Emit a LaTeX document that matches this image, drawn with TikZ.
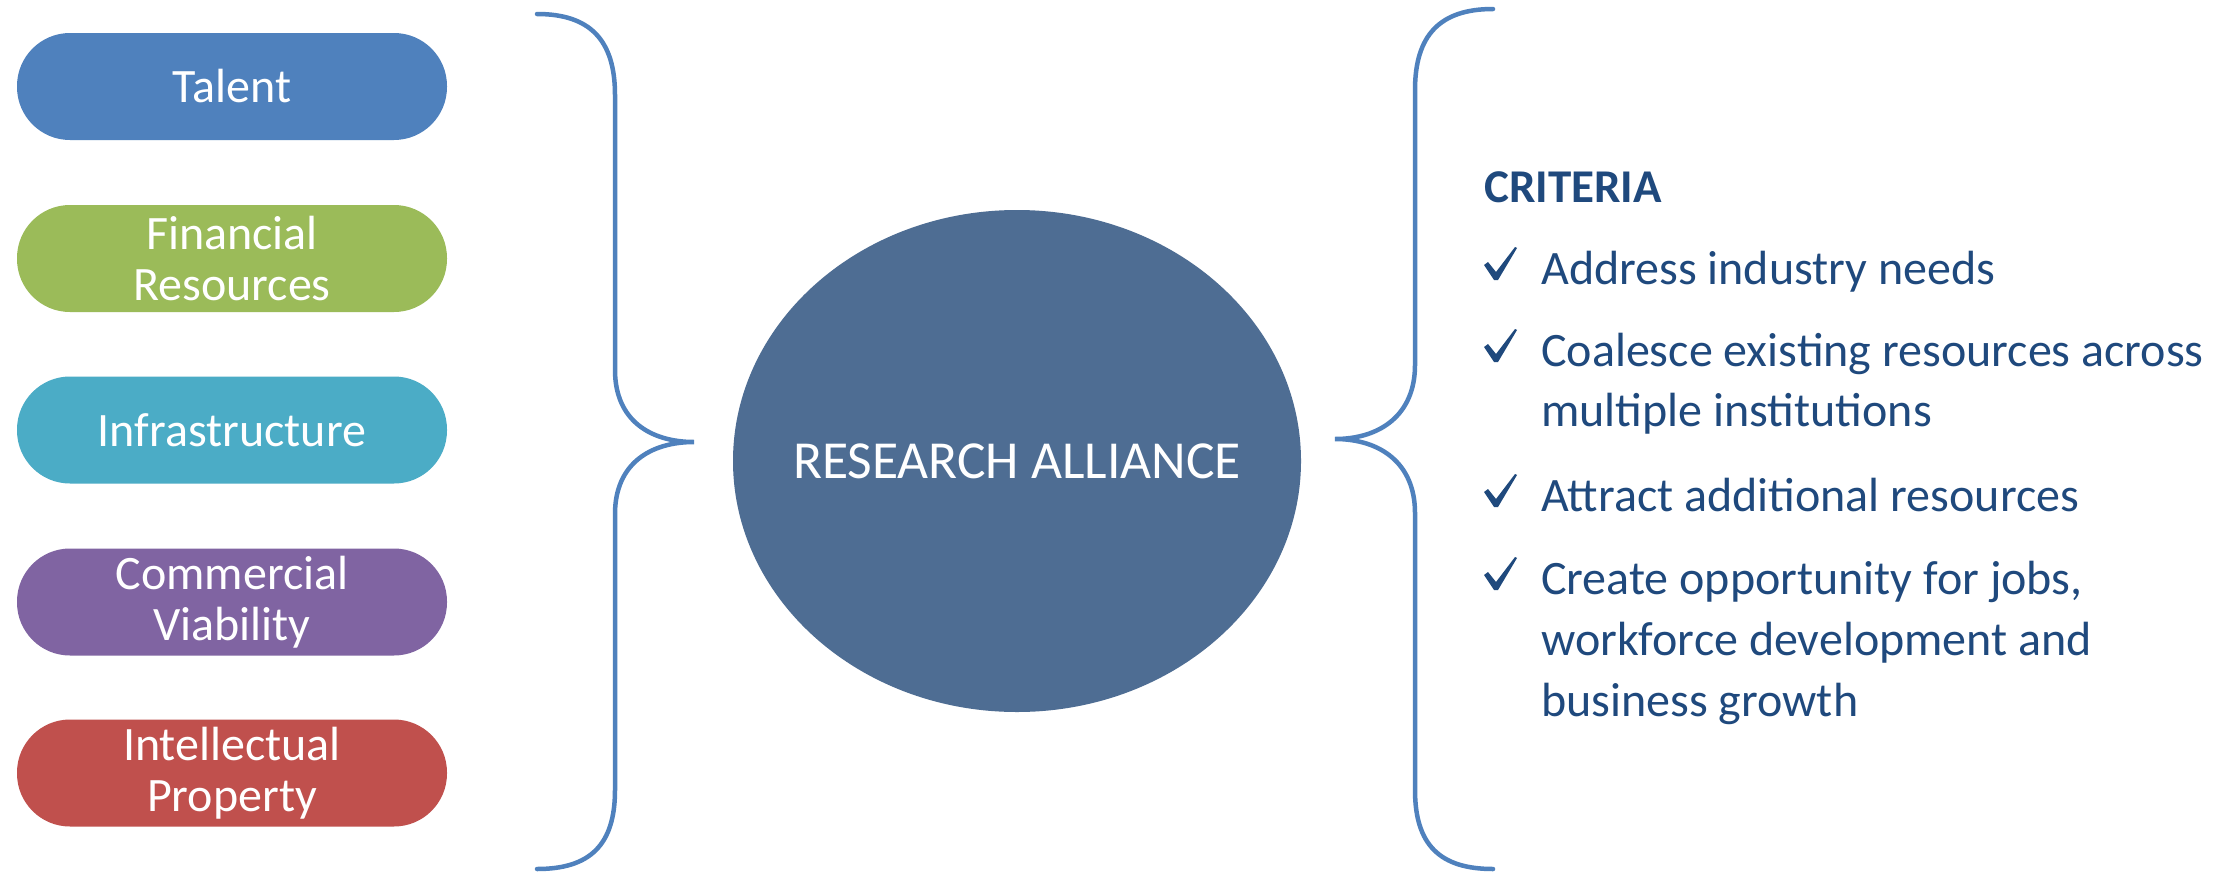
\documentclass[tikz,border=0pt]{standalone}
\usepackage{fontspec}
\usetikzlibrary{shapes.geometric}
\setmainfont{Carlito}
\definecolor{cTalent}{HTML}{4F81BD}
\definecolor{cFin}{HTML}{9BBB59}
\definecolor{cInfra}{HTML}{4BACC6}
\definecolor{cComm}{HTML}{8064A2}
\definecolor{cIP}{HTML}{C0504D}
\definecolor{cCore}{HTML}{4E6D93}
\definecolor{cBrace}{HTML}{4F81BD}
\definecolor{cText}{HTML}{1F497D}
\begin{document}
\begin{tikzpicture}[x=1pt,y=-1pt,
  pill/.style={draw=none, rounded corners=53pt, minimum width=430pt, minimum height=107pt,
    text=white, align=center, font=\fontsize{48}{51}\selectfont, inner sep=0pt},
  bracepath/.style={draw=cBrace, line width=4.5pt, line cap=round},
  crit/.style={anchor=base west, text=cText, inner sep=0pt, font=\fontsize{48}{60}\selectfont},
  chk/.pic={\fill[cText] (-1,-14) -- (3,-17) -- (11,-7) -- (30,-32) -- (32,-31)
      -- (13,1) -- (9,1) -- cycle;}]
\useasboundingbox (0,0) rectangle (2234,878);
\fill[white] (0,0) rectangle (2234,878);
% pills
\node[pill, fill=cTalent] (talent) at (232,86.5) {Talent};
\node[pill, fill=cFin] (fin) at (232,258.5) {Financial\\Resources};
\node[pill, fill=cInfra] (infra) at (232,430) {Infrastructure};
\node[pill, fill=cComm] (comm) at (232,602) {Commercial\\Viability};
\node[pill, fill=cIP] (ip) at (232,773) {Intellectual\\Property};
% centre
\node[ellipse, fill=cCore, minimum width=568pt, minimum height=502pt, inner sep=0pt] (core) at (1017,461) {};
\node[text=white, inner sep=0pt, font=\fontsize{53.5}{60}\selectfont] (corelabel) at (core.center) {RESEARCH ALLIANCE};
% left brace
\draw[bracepath] (537,14) .. controls (590,14) and (615,40) .. (615,95) -- (615,370)
  .. controls (615,420) and (650,442) .. (694,442)
  .. controls (650,442) and (615,464) .. (615,514) -- (615,790)
  .. controls (615,845) and (590,869) .. (537,869);
% right brace
\draw[bracepath] (1493,9) .. controls (1440,9) and (1415,35) .. (1415,90) -- (1415,365)
  .. controls (1415,415) and (1380,439) .. (1335,439)
  .. controls (1380,439) and (1415,463) .. (1415,513) -- (1415,790)
  .. controls (1415,845) and (1440,869) .. (1493,869);
% criteria
\node[crit, font=\bfseries\fontsize{47}{60}\selectfont] (crith) at (1484,202) {CRITERIA};
\coordinate (t1) at (1485,279); \pic at (t1) {chk};
\node[crit] (c1) at (1541,284) {Address industry needs};
\coordinate (t2) at (1485,361); \pic at (t2) {chk};
\node[crit] (c2a) at (1541,366) {Coalesce existing resources across};
\node[crit] (c2b) at (1541,426) {multiple institutions};
\coordinate (t3) at (1485,506); \pic at (t3) {chk};
\node[crit] (c3) at (1541,511) {Attract additional resources};
\coordinate (t4) at (1485,589); \pic at (t4) {chk};
\node[crit] (c4a) at (1541,594) {Create opportunity for jobs,};
\node[crit] (c4b) at (1541,655) {workforce development and};
\node[crit] (c4c) at (1541,716) {business growth};
\end{tikzpicture}
\end{document}
